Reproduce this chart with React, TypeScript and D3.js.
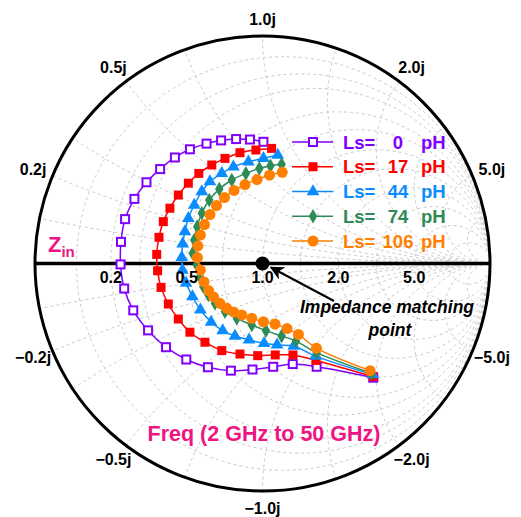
import React from "react";
import * as d3 from "d3";

// reflection coefficient (re, im), one list per Ls value
const gammaLs0: [number, number][] = [
  [0.004, 0.535], [-0.055, 0.545], [-0.116, 0.547], [-0.182, 0.541], [-0.246, 0.527],
  [-0.319, 0.502], [-0.385, 0.466], [-0.45, 0.415], [-0.51, 0.357], [-0.563, 0.284],
  [-0.604, 0.195], [-0.622, 0.095], [-0.624, -0.004], [-0.608, -0.11], [-0.568, -0.206],
  [-0.503, -0.294], [-0.424, -0.368], [-0.335, -0.422], [-0.24, -0.456], [-0.139, -0.471],
  [-0.044, -0.466], [0.047, -0.454], [0.133, -0.442], [0.238, -0.454], [0.487, -0.502],
];
const gammaLs17: [number, number][] = [
  [0.04, 0.506], [-0.029, 0.499], [-0.099, 0.487], [-0.165, 0.462], [-0.223, 0.433],
  [-0.28, 0.396], [-0.326, 0.353], [-0.37, 0.301], [-0.407, 0.243], [-0.436, 0.184],
  [-0.455, 0.115], [-0.465, 0.04], [-0.461, -0.032], [-0.446, -0.105], [-0.414, -0.178],
  [-0.37, -0.244], [-0.319, -0.302], [-0.253, -0.346], [-0.179, -0.383], [-0.099, -0.398],
  [-0.021, -0.405], [0.056, -0.402], [0.134, -0.402], [0.235, -0.426], [0.486, -0.497],
];
const gammaLs44: [number, number][] = [
  [0.067, 0.477], [0.004, 0.462], [-0.062, 0.447], [-0.128, 0.425], [-0.179, 0.396],
  [-0.231, 0.36], [-0.267, 0.316], [-0.3, 0.257], [-0.326, 0.199], [-0.341, 0.14],
  [-0.351, 0.086], [-0.355, 0.027], [-0.352, -0.029], [-0.336, -0.086], [-0.308, -0.145],
  [-0.273, -0.204], [-0.226, -0.257], [-0.175, -0.295], [-0.121, -0.319], [-0.059, -0.336],
  [0.007, -0.351], [0.064, -0.358], [0.137, -0.363], [0.233, -0.407], [0.484, -0.488],
];
const gammaLs74: [number, number][] = [
  [0.084, 0.436], [0.035, 0.429], [-0.014, 0.418], [-0.073, 0.396], [-0.135, 0.367],
  [-0.19, 0.327], [-0.234, 0.279], [-0.267, 0.221], [-0.287, 0.162], [-0.3, 0.103],
  [-0.307, 0.045], [-0.289, -0.007], [-0.275, -0.058], [-0.26, -0.102], [-0.238, -0.138],
  [-0.209, -0.175], [-0.165, -0.212], [-0.113, -0.241], [-0.047, -0.27], [0.015, -0.295],
  [0.084, -0.319], [0.147, -0.341], [0.238, -0.392], [0.48, -0.483],
];
const gammaLs106: [number, number][] = [
  [0.087, 0.401], [0.031, 0.388], [-0.024, 0.369], [-0.077, 0.347], [-0.125, 0.321],
  [-0.167, 0.29], [-0.202, 0.255], [-0.231, 0.215], [-0.255, 0.171], [-0.273, 0.125],
  [-0.284, 0.077], [-0.286, 0.026], [-0.273, -0.029], [-0.257, -0.081], [-0.237, -0.119],
  [-0.215, -0.147], [-0.187, -0.175], [-0.157, -0.197], [-0.127, -0.213], [-0.091, -0.226],
  [-0.047, -0.241], [0.004, -0.256], [0.055, -0.266], [0.108, -0.286], [0.158, -0.312],
  [0.237, -0.372], [0.473, -0.471],
];

const lsValues = ["0", "17", "44", "74", "106"];
const seriesColors = ["#8000FF", "#FF0000", "#0A8CFF", "#2E8B57", "#FF8000"];
const seriesShapes = ["openSquare", "square", "triangle", "diamond", "circle"];
const seriesData = [gammaLs0, gammaLs17, gammaLs44, gammaLs74, gammaLs106];

const resistanceTicks = [0.2, 0.5, 1, 2, 5];
const reactanceTicks = [0.2, 0.5, 1, 2, 5, -0.2, -0.5, -1, -2, -5];
const gridValues = [0.1, 0.2, 0.3, 0.5, 0.7, 1, 1.4, 2, 3, 5, 10];

const width = 521;
const height = 517;
const cx = 262.5;
const cy = 263.5;
const R = 227.5;
const pink = "#F01482";
const font = "Arial, 'Liberation Sans', sans-serif";

const xs = d3.scaleLinear().domain([-1, 1]).range([cx - R, cx + R]);
const ys = d3.scaleLinear().domain([-1, 1]).range([cy + R, cy - R]);

function Marker({ shape, color, x, y }) {
  if (shape === "openSquare")
    return <rect x={x - 4} y={y - 4} width={8} height={8} fill="white" stroke={color} strokeWidth={2} />;
  if (shape === "square")
    return <rect x={x - 4.5} y={y - 4.5} width={9} height={9} fill={color} />;
  if (shape === "circle") return <circle cx={x} cy={y} r={5.5} fill={color} />;
  const sym = shape === "triangle" ? d3.symbolTriangle : d3.symbolDiamond;
  const d = d3.symbol().type(sym).size(shape === "triangle" ? 70 : 62)();
  return <path d={d} transform={`translate(${x},${y})`} fill={color} />;
}

export default function App() {
  const line = d3
    .line<[number, number]>()
    .x((d) => xs(d[0]))
    .y((d) => ys(d[1]))
    .curve(d3.curveCatmullRom.alpha(0.5));

  const fmt = d3.format(".1f");

  return (
    <div style={{ position: "absolute", left: 0, top: 0 }}>
      <svg width={width} height={height} style={{ display: "block", background: "white" }}>
        <defs>
          <clipPath id="unit">
            <circle cx={cx} cy={cy} r={R} />
          </clipPath>
          <marker id="arrow" viewBox="0 0 10 10" refX="9" refY="5" markerWidth="7" markerHeight="7" orient="auto">
            <path d="M0,0 L10,5 L0,10 L3,5 Z" fill="black" />
          </marker>
        </defs>

        {/* smith grid */}
        <g clipPath="url(#unit)" fill="none" stroke="#c8c8c8" strokeWidth={1} strokeDasharray="3,3">
          {gridValues.map((r) => (
            <circle key={"r" + r} cx={xs(r / (1 + r))} cy={cy} r={R / (1 + r)} />
          ))}
          {gridValues.map((x) => (
            <g key={"x" + x}>
              <circle cx={xs(1)} cy={ys(1 / x)} r={R / x} />
              <circle cx={xs(1)} cy={ys(-1 / x)} r={R / x} />
            </g>
          ))}
        </g>

        <circle cx={cx} cy={cy} r={R} fill="none" stroke="black" strokeWidth={3} />
        <line x1={xs(-1)} x2={xs(1)} y1={cy} y2={cy} stroke="black" strokeWidth={3.5} />

        {/* series */}
        {seriesData.map((data, i) => (
          <g key={lsValues[i]}>
            <path d={line(data)} fill="none" stroke={seriesColors[i]} strokeWidth={1.5} />
            {data.map((d, j) => (
              <Marker key={j} shape={seriesShapes[i]} color={seriesColors[i]} x={xs(d[0])} y={ys(d[1])} />
            ))}
          </g>
        ))}

        {/* resistance labels */}
        {resistanceTicks.map((r) => (
          <text key={"rl" + r} x={xs((r - 1) / (r + 1))} y={cy + 19} textAnchor="middle"
            fontFamily={font} fontWeight="bold" fontSize={16} fill="black">
            {fmt(r)}
          </text>
        ))}

        {/* reactance labels */}
        {reactanceTicks.map((x) => {
          const re = (x * x - 1) / (x * x + 1);
          const im = (2 * x) / (x * x + 1);
          const px = cx + (R + 17) * re + 4 * re;
          const py = cy - (R + 17) * im;
          return (
            <text key={"xl" + x} x={px} y={py} textAnchor="middle" dominantBaseline="central"
              fontFamily={font} fontWeight="bold" fontSize={16} fill="black">
              {fmt(x) + "j"}
            </text>
          );
        })}

        {/* legend */}
        {lsValues.map((v, i) => {
          const y = 142 + i * 24.75;
          return (
            <g key={"lg" + v} fontFamily={font} fontWeight="bold" fontSize={18.5} fill={seriesColors[i]}>
              <line x1={292} x2={333} y1={y} y2={y} stroke={seriesColors[i]} strokeWidth={1.5} />
              <Marker shape={seriesShapes[i]} color={seriesColors[i]} x={313} y={y} />
              <text x={343} y={y + 6.5}>Ls=</text>
              <text x={398} y={y + 6.5} textAnchor="middle">{v}</text>
              <text x={421} y={y + 6.5}>pH</text>
            </g>
          );
        })}

        {/* matching point */}
        <circle cx={xs(0)} cy={ys(0)} r={7} fill="black" />
        <line x1={334} y1={301} x2={271} y2={267.5} stroke="black" strokeWidth={2} markerEnd="url(#arrow)" />
        <text x={387} y={313} textAnchor="middle" fontFamily={font} fontWeight="bold" fontStyle="italic" fontSize={17.5}>
          Impedance matching
        </text>
        <text x={390} y={336} textAnchor="middle" fontFamily={font} fontWeight="bold" fontStyle="italic" fontSize={17.5}>
          point
        </text>

        <text x={48} y={252} fontFamily={font} fontWeight="bold" fontSize={22} fill={pink}>
          Z<tspan fontSize={15} dy={5}>in</tspan>
        </text>
        <text x={264} y={441} textAnchor="middle" fontFamily={font} fontWeight="bold" fontSize={21.5} fill={pink}>
          Freq (2 GHz to 50 GHz)
        </text>
      </svg>
    </div>
  );
}
